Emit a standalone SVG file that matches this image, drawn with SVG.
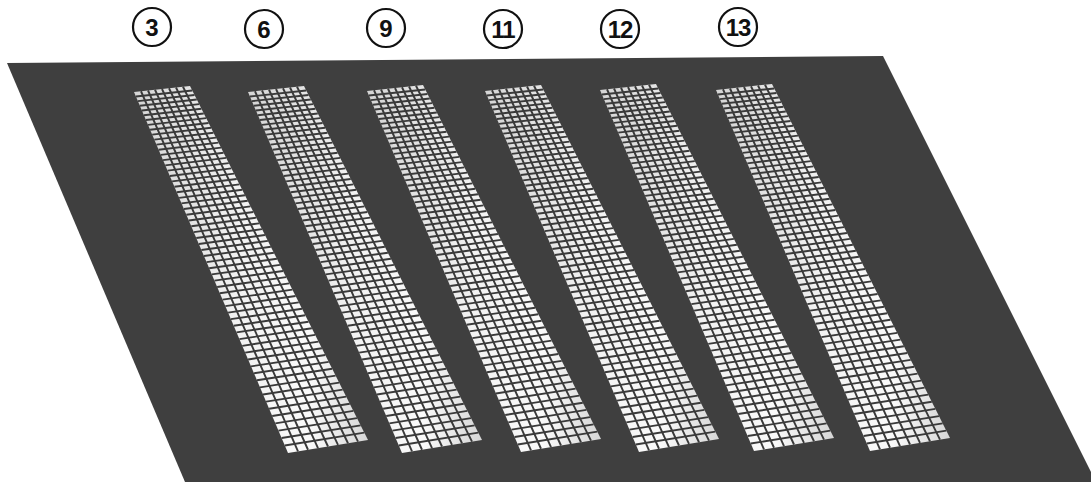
<svg xmlns="http://www.w3.org/2000/svg" xmlns:xlink="http://www.w3.org/1999/xlink" width="1091" height="482" viewBox="0 0 1091 482">
<style>
.lbl{font-family:"Liberation Sans",Arial,sans-serif;font-size:24px;font-weight:bold;fill:#111;text-anchor:middle}
.ring{fill:#fff;stroke:#111;stroke-width:2.2}
.grid{fill:none;stroke:#3a3a3a;stroke-width:1.9}
</style>
<defs>
<linearGradient id="cellFill" x1="0" y1="0" x2="1" y2="0">
<stop offset="0" stop-color="#d4d4d4"/>
<stop offset="0.45" stop-color="#f2f2f2"/>
<stop offset="0.75" stop-color="#fafafa"/>
<stop offset="1" stop-color="#d6d6d6"/>
</linearGradient>
<g id="strip">
<polygon points="0,0 56,-6 234,348 154,361" fill="url(#cellFill)"/>
<path class="grid" d="M7,-0.75 L164,359.4 M14,-1.5 L174,357.75 M21,-2.25 L184,356.1 M28,-3 L194,354.5 M35,-3.75 L204,352.9 M42,-4.5 L214,351.25 M49,-5.25 L224,349.6"/>
<path class="grid" d="M1.94,4.54 l56.30,-6.09 M3.89,9.13 l56.61,-6.18 M5.87,13.76 l56.92,-6.27 M7.87,18.45 l57.23,-6.36 M9.89,23.19 l57.54,-6.45 M11.94,27.98 l57.86,-6.54 M14.00,32.82 l58.18,-6.64 M16.08,37.70 l58.51,-6.73 M18.19,42.64 l58.84,-6.83 M20.32,47.63 l59.17,-6.92 M22.47,52.67 l59.50,-7.02 M24.64,57.76 l59.84,-7.12 M26.83,62.90 l60.18,-7.22 M29.05,68.09 l60.53,-7.32 M31.28,73.33 l60.88,-7.42 M33.54,78.62 l61.23,-7.52 M35.82,83.96 l61.58,-7.63 M38.12,89.35 l61.94,-7.73 M40.44,94.79 l62.30,-7.84 M42.78,100.28 l62.67,-7.94 M45.14,105.82 l63.04,-8.05 M47.53,111.41 l63.41,-8.16 M49.93,117.05 l63.78,-8.27 M52.36,122.74 l64.16,-8.38 M54.81,128.48 l64.54,-8.49 M57.28,134.27 l64.93,-8.60 M59.77,140.11 l65.32,-8.72 M62.28,146.00 l65.71,-8.83 M64.82,151.95 l66.10,-8.95 M67.38,157.94 l66.50,-9.06 M69.95,163.98 l66.90,-9.18 M72.55,170.07 l67.31,-9.30 M75.17,176.21 l67.72,-9.42 M77.81,182.41 l68.13,-9.54 M80.48,188.65 l68.54,-9.66 M83.16,194.94 l68.96,-9.78 M85.87,201.28 l69.38,-9.90 M88.59,207.68 l69.81,-10.03 M91.34,214.12 l70.24,-10.15 M94.11,220.61 l70.67,-10.28 M96.90,227.15 l71.10,-10.40 M99.72,233.75 l71.54,-10.53 M102.55,240.39 l71.98,-10.66 M105.40,247.08 l72.43,-10.79 M108.28,253.83 l72.88,-10.92 M111.18,260.62 l73.33,-11.05 M114.10,267.47 l73.78,-11.19 M117.04,274.36 l74.24,-11.32 M120.00,281.30 l74.70,-11.45 M122.99,288.30 l75.17,-11.59 M125.99,295.34 l75.64,-11.73 M129.02,302.44 l76.11,-11.86 M132.07,309.58 l76.58,-12.00 M135.14,316.78 l77.06,-12.14 M138.23,324.02 l77.54,-12.28 M141.34,331.32 l78.03,-12.42 M144.47,338.66 l78.52,-12.57 M147.63,346.06 l79.01,-12.71 M150.80,353.50 l79.50,-12.85"/>
</g>
</defs>
<rect width="1091" height="482" fill="#ffffff"/>
<g id="panel">
<polygon points="7,63 883,56 1096,482 185,482" fill="#3f3f3f"/>
</g>
<g id="strip-3"><use xlink:href="#strip" href="#strip" transform="translate(134,92)"/></g>
<g id="strip-6"><use xlink:href="#strip" href="#strip" transform="translate(248,92)"/></g>
<g id="strip-9"><use xlink:href="#strip" href="#strip" transform="translate(367,91)"/></g>
<g id="strip-11"><use xlink:href="#strip" href="#strip" transform="translate(485,91)"/></g>
<g id="strip-12"><use xlink:href="#strip" href="#strip" transform="translate(600,90)"/></g>
<g id="strip-13"><use xlink:href="#strip" href="#strip" transform="translate(716,90)"/></g>
<g id="label-3"><circle class="ring" cx="152" cy="27" r="19"/><text class="lbl" x="152" y="35.5">3</text></g>
<g id="label-6"><circle class="ring" cx="264" cy="29" r="19"/><text class="lbl" x="264" y="37.5">6</text></g>
<g id="label-9"><circle class="ring" cx="386" cy="28" r="19"/><text class="lbl" x="386" y="36.5">9</text></g>
<g id="label-11"><circle class="ring" cx="503" cy="29" r="19"/><text class="lbl" x="503" y="37.5" letter-spacing="-1">11</text></g>
<g id="label-12"><circle class="ring" cx="620" cy="29" r="19"/><text class="lbl" x="620" y="37.5" letter-spacing="-1">12</text></g>
<g id="label-13"><circle class="ring" cx="738" cy="27" r="19"/><text class="lbl" x="738" y="35.5" letter-spacing="-1">13</text></g>
<g id="connectors"/>
</svg>
